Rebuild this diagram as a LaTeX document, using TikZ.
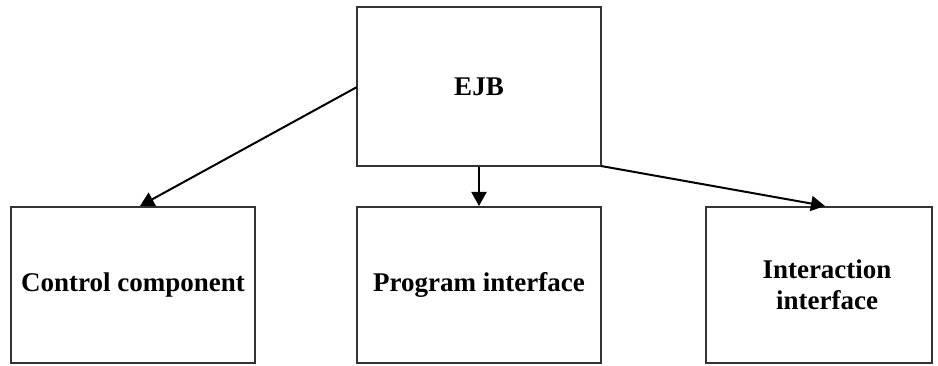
\documentclass[tikz,border=0pt]{standalone}
\usepackage{fontspec}
\setmainfont{Liberation Serif}
\usetikzlibrary{arrows.meta}
\begin{document}
\begin{tikzpicture}[x=1pt,y=-1pt,
  boxfont/.style={font=\fontsize{27}{31}\selectfont\bfseries},
  box/.style={draw=black!80, line width=2pt, inner sep=0pt, align=center, boxfont},
  link/.style={line width=2pt, -{Triangle[length=14pt,width=15pt]}}]
  \useasboundingbox (0,0) rectangle (938,366);
  \node[box, minimum width=244pt, minimum height=159pt] (ejb) at (479,86.5) {EJB};
  \node[box, minimum width=244pt, minimum height=156pt] (ctl) at (133,285) {Control component};
  \node[box, minimum width=244pt, minimum height=156pt] (prg) at (479,285) {Program interface};
  \node[box, minimum width=226pt, minimum height=156pt,
    label={[boxfont, align=center, xshift=8pt]center:Interaction\\interface}] (itr) at (819,285) {};
  \coordinate (a1) at (357,87);
  \coordinate (a3) at (601,166);
  \draw[link] (a1) -- (ctl.north -| 140,0);
  \draw[link] (ejb.south) -- (prg.north);
  \draw[link] (a3) -- (itr.north -| 825,0);
\end{tikzpicture}
\end{document}
